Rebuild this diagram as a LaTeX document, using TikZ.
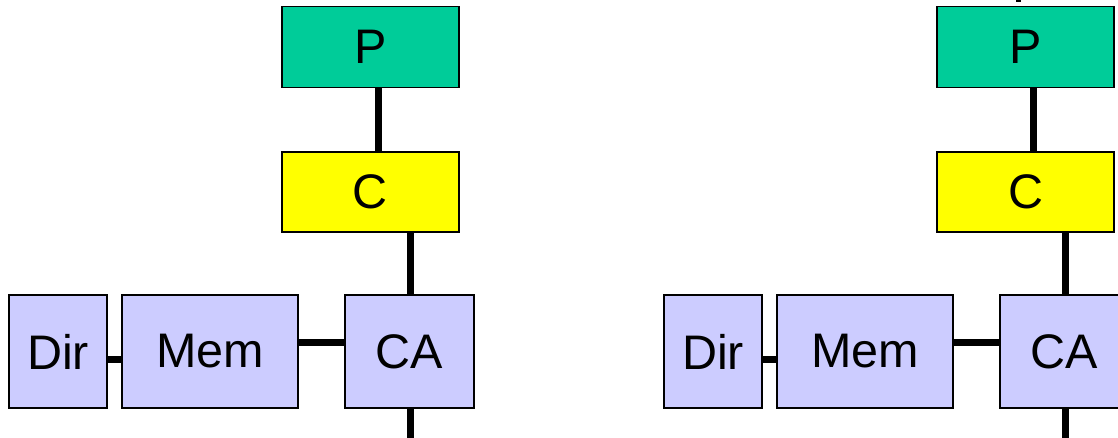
\documentclass[tikz,border=0pt]{standalone}
\usepackage{fontspec}
\setmainfont{Liberation Sans}
\definecolor{pgreen}{RGB}{0,204,153}
\definecolor{cyellow}{RGB}{255,255,0}
\definecolor{lav}{RGB}{204,204,255}
\begin{document}
\begin{tikzpicture}[x=1pt,y=-1pt,
  box/.style={draw=black,line width=1.6pt,inner sep=0pt,font=\fontsize{48.5}{52}\selectfont},
  wire/.style={line width=7pt,black}]
\useasboundingbox (0,0) rectangle (1118,438);
\foreach \o/\s in {0/L,655/R}{
  \node[box,fill=pgreen,minimum width=177pt,minimum height=81pt] (P\s) at (370.5+\o,47) {P};
  \node[box,fill=cyellow,minimum width=177pt,minimum height=80pt] (C\s) at (370.5+\o,192) {C};
  \node[box,fill=lav,minimum width=129pt,minimum height=113pt] (CA\s) at (409.5+\o,351.5) {CA};
  \node[box,fill=lav,minimum width=176pt,minimum height=113pt] (Mem\s) at (210+\o,351.5) {Mem};
  \node[box,fill=lav,minimum width=98pt,minimum height=113pt] (Dir\s) at (58+\o,351.5) {Dir};
  \coordinate (B\s) at (410+\o,440);
  \draw[wire] (378+\o,0|-P\s.south) -- (378+\o,0|-C\s.north);
  \draw[wire] (410+\o,0|-C\s.south) -- (410+\o,0|-CA\s.north);
  \draw[wire] (410+\o,0|-CA\s.south) -- (B\s);
  \draw[wire] (Mem\s.east|-0,342) -- (CA\s.west|-0,342);
  \draw[wire] (Dir\s.east|-0,359) -- (Mem\s.west|-0,359);
}
\coordinate (T1) at (1018,-2);
\coordinate (T2) at (1018,2.5);
\draw[line width=5pt] (T1) -- (T2);
\end{tikzpicture}
\end{document}
